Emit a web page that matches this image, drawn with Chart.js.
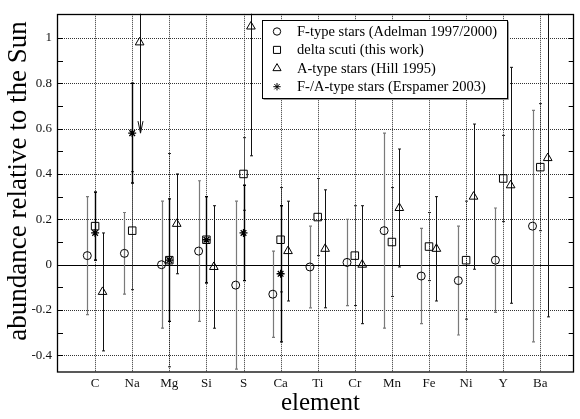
<!DOCTYPE html>
<html>
<head>
<meta charset="utf-8">
<script src="https://cdn.jsdelivr.net/npm/chart.js@4.4.1/dist/chart.umd.min.js"></script>
<style>
  html, body { margin: 0; padding: 0; background: #fff; }
  canvas { display: block; }
</style>
</head>
<body>
<canvas id="chart" width="580" height="419"></canvas>
<script>
// element categories along the x axis
const elements = ['C', 'Na', 'Mg', 'Si', 'S', 'Ca', 'Ti', 'Cr', 'Mn', 'Fe', 'Ni', 'Y', 'Ba']

// F-type stars (Adelman 1997/2000)
const fValues = [0.04, 0.05, 0.00, 0.06, -0.09, -0.13, -0.01, 0.01, 0.15, -0.05, -0.07, 0.02, 0.17]
const fLow    = [-0.22, -0.13, -0.28, -0.25, -0.46, -0.32, -0.19, -0.18, -0.28, -0.26, -0.31, -0.21, -0.34]
const fHigh   = [0.30, 0.23, 0.28, 0.37, 0.28, 0.06, 0.17, 0.20, 0.58, 0.16, 0.17, 0.25, 0.68]

// delta scuti (this work)
const dValues = [0.17, 0.15, 0.02, 0.11, 0.40, 0.11, 0.21, 0.04, 0.10, 0.08, 0.02, 0.38, 0.43]
const dLow    = [0.02, -0.11, -0.45, -0.08, 0.24, -0.12, 0.04, -0.18, -0.14, -0.07, -0.24, 0.19, 0.15]
const dHigh   = [0.32, 0.41, 0.49, 0.30, 0.56, 0.34, 0.38, 0.26, 0.34, 0.23, 0.28, 0.57, 0.71]

// A-type stars (Hill 1995)
const aValues = [-0.12, 0.98, 0.18, -0.01, 1.05, 0.06, 0.07, 0.00, 0.25, 0.07, 0.30, 0.35, 0.47]
const aLow    = [-0.38, 0.58, -0.04, -0.28, 0.48, -0.16, -0.19, -0.26, -0.01, -0.16, -0.02, -0.17, -0.23]
const aHigh   = [0.14, 1.40, 0.40, 0.26, 1.62, 0.28, 0.33, 0.26, 0.51, 0.30, 0.62, 0.87, 1.17]
const aUpperLimit = [false, true, false, false, false, false, false, false, false, false, false, false, false]

// F-/A-type stars (Erspamer 2003)
const eValues = [0.14, 0.58, 0.02, 0.11, 0.14, -0.04, null, null, null, null, null, null, null]
const eLow    = [0.02, 0.36, -0.25, -0.08, -0.07, -0.34, null, null, null, null, null, null, null]
const eHigh   = [0.32, 0.80, 0.29, 0.30, 0.35, 0.26, null, null, null, null, null, null, null]

const yTickValues = [-0.4, -0.2, 0, 0.2, 0.4, 0.6, 0.8, 1]
const yTickLabels = ['-0.4', '-0.2', '0', '0.2', '0.4', '0.6', '0.8', '1']

const serif = "'Liberation Serif', 'Times New Roman', serif"

const series = [
  { label: 'F-type stars (Adelman 1997/2000)', values: fValues, low: fLow, high: fHigh,
    shift: -0.21, style: 'circle', radius: 4, barColor: '#7a7a7a', barWidth: 1.2, dash: [] },
  { label: 'delta scuti (this work)', values: dValues, low: dLow, high: dHigh,
    shift: 0, style: 'rect', radius: 5.3, barColor: '#222', barWidth: 1, dash: [1, 1] },
  { label: 'A-type stars (Hill 1995)', values: aValues, low: aLow, high: aHigh, limit: aUpperLimit,
    shift: 0.2, style: 'triangle', radius: 5, barColor: '#111', barWidth: 1, dash: [] },
  { label: 'F-/A-type stars (Erspamer 2003)', values: eValues, low: eLow, high: eHigh,
    shift: 0, style: 'star', radius: 4, barColor: '#000', barWidth: 1.4, dash: [] }
]

const plotExtras = {
  id: 'plotExtras',
  beforeDatasetsDraw(chart) {
    const { ctx, chartArea: a, scales: { x, y } } = chart
    ctx.save()
    ctx.beginPath()
    ctx.rect(a.left, a.top, a.right - a.left, a.bottom - a.top)
    ctx.clip()

    // dotted grid
    ctx.strokeStyle = '#333'
    ctx.lineWidth = 1
    ctx.setLineDash([1, 1])
    for (let i = 1; i <= elements.length; i++) {
      const px = Math.round(x.getPixelForValue(i)) + 0.5
      ctx.beginPath()
      ctx.moveTo(px, a.top)
      ctx.lineTo(px, a.bottom)
      ctx.stroke()
    }
    yTickValues.forEach(v => {
      if (v === 0) return
      const py = Math.round(y.getPixelForValue(v)) + 0.5
      ctx.beginPath()
      ctx.moveTo(a.left, py)
      ctx.lineTo(a.right, py)
      ctx.stroke()
    })
    ctx.setLineDash([])

    // zero line
    const y0 = Math.round(y.getPixelForValue(0)) + 0.5
    ctx.strokeStyle = '#000'
    ctx.lineWidth = 1.2
    ctx.beginPath()
    ctx.moveTo(a.left, y0)
    ctx.lineTo(a.right, y0)
    ctx.stroke()

    // error bars
    series.forEach(s => {
      ctx.strokeStyle = s.barColor
      ctx.lineWidth = s.barWidth
      s.values.forEach((v, i) => {
        if (v === null) return
        const px = Math.round(x.getPixelForValue(i + 1 + s.shift)) + 0.5
        const yl = y.getPixelForValue(s.low[i])
        const yh = y.getPixelForValue(s.high[i])
        ctx.setLineDash(s.dash)
        ctx.beginPath()
        ctx.moveTo(px, yl)
        ctx.lineTo(px, yh)
        ctx.stroke()
        ctx.setLineDash([])
        const limit = s.limit && s.limit[i]
        ctx.beginPath()
        if (limit) {
          ctx.moveTo(px - 2.5, yl - 12)
          ctx.lineTo(px, yl)
          ctx.lineTo(px + 2.5, yl - 12)
        } else {
          ctx.moveTo(px - 1.5, yl)
          ctx.lineTo(px + 1.5, yl)
        }
        ctx.moveTo(px - 1.5, yh)
        ctx.lineTo(px + 1.5, yh)
        ctx.stroke()
      })
    })
    ctx.restore()
  },
  afterDraw(chart) {
    const { ctx, chartArea: a, scales: { y } } = chart
    ctx.save()
    // inward ticks on left and right
    ctx.strokeStyle = '#000'
    ctx.lineWidth = 1
    y.ticks.forEach(t => {
      if (t.value > 1.05) return
      const py = Math.round(y.getPixelForValue(t.value)) + 0.5
      ctx.beginPath()
      ctx.moveTo(a.left, py)
      ctx.lineTo(a.left + 5, py)
      ctx.moveTo(a.right, py)
      ctx.lineTo(a.right - 5, py)
      ctx.stroke()
    })
    // frame
    ctx.lineWidth = 1.3
    ctx.strokeRect(Math.round(a.left) - 0.5, Math.round(a.top) + 0.5,
      Math.round(a.right - a.left), Math.round(a.bottom - a.top) - 0.5)

    // axis titles
    ctx.fillStyle = '#000'
    ctx.font = '27px ' + serif
    ctx.textAlign = 'center'
    ctx.textBaseline = 'alphabetic'
    ctx.save()
    ctx.translate(26, 181)
    ctx.rotate(-Math.PI / 2)
    ctx.fillText('abundance relative to the Sun', 0, 0)
    ctx.restore()
    ctx.font = '25px ' + serif
    ctx.fillText('element', 320.5, 410)

    // legend box
    const bx = 262.5, by = 20.5, bw = 245, bh = 78
    ctx.fillStyle = '#fff'
    ctx.fillRect(bx, by, bw, bh)
    ctx.strokeStyle = '#999'
    ctx.lineWidth = 1
    ctx.beginPath()
    ctx.moveTo(bx + bw + 1, by + 1)
    ctx.lineTo(bx + bw + 1, by + bh + 1)
    ctx.lineTo(bx + 1, by + bh + 1)
    ctx.stroke()
    ctx.strokeStyle = '#000'
    ctx.strokeRect(bx, by, bw, bh)

    ctx.font = '14.5px ' + serif
    ctx.textBaseline = 'middle'
    ctx.textAlign = 'left'
    series.forEach((s, i) => {
      const ry = 31.5 + i * 18.4
      ctx.strokeStyle = '#000'
      ctx.fillStyle = 'rgba(0,0,0,0)'
      Chart.helpers.drawPoint(ctx, { pointStyle: s.style, radius: s.radius - 0.3, rotation: 0, borderWidth: 1 }, 277, ry)
      ctx.fillStyle = '#000'
      ctx.fillText(s.label, 297, ry + 0.5)
    })
    ctx.restore()
  }
}

const datasets = series.map(s => ({
  label: s.label,
  data: s.values.map((v, i) => (v === null ? null : { x: i + 1 + s.shift, y: v })).filter(p => p),
  pointStyle: s.style,
  pointRadius: s.radius,
  pointBorderColor: '#000',
  pointBackgroundColor: 'rgba(0,0,0,0)',
  pointBorderWidth: s.style === 'star' ? 1.3 : 1,
  showLine: false
}))

new Chart(document.getElementById('chart'), {
  type: 'scatter',
  data: { datasets },
  plugins: [plotExtras],
  options: {
    responsive: false,
    animation: false,
    devicePixelRatio: 1,
    layout: { padding: { top: 3, right: 0, left: 0, bottom: 0 } },
    plugins: { legend: { display: false }, tooltip: { enabled: false } },
    scales: {
      x: {
        type: 'linear',
        min: 0,
        max: 13.9,
        afterFit: scale => { scale.height = 47 },
        border: { display: false },
        grid: { display: false, drawTicks: false },
        ticks: {
          stepSize: 1,
          includeBounds: false,
          autoSkip: false,
          maxRotation: 0,
          padding: 4,
          color: '#111',
          font: { family: serif, size: 13 },
          callback: v => elements[v - 1] || ''
        }
      },
      y: {
        min: -0.473,
        max: 1.106,
        afterFit: scale => { scale.width = 58 },
        border: { display: false },
        grid: { display: false, drawTicks: false },
        ticks: {
          stepSize: 0.1,
          includeBounds: false,
          autoSkip: false,
          padding: 6,
          color: '#111',
          font: { family: serif, size: 13 },
          callback: v => {
            const k = yTickValues.findIndex(t => Math.abs(t - v) < 1e-6)
            return k >= 0 ? yTickLabels[k] : ''
          }
        }
      }
    }
  }
})
</script>
</body>
</html>
